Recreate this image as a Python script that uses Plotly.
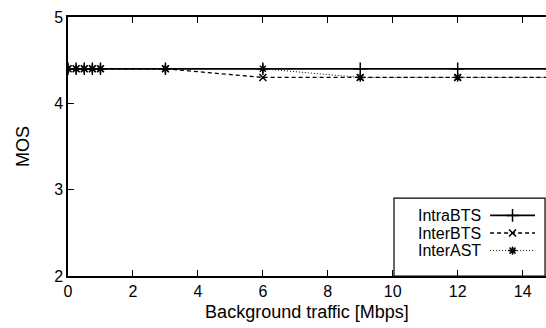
import plotly.graph_objects as go

# Data
x_vals = [0, 0.25, 0.5, 0.75, 1, 3, 6, 9, 12, 15]
intra_bts = [4.4, 4.4, 4.4, 4.4, 4.4, 4.4, 4.4, 4.4, 4.4, 4.4]
inter_bts = [4.4, 4.4, 4.4, 4.4, 4.4, 4.4, 4.3, 4.3, 4.3, 4.3]
inter_ast = [4.4, 4.4, 4.4, 4.4, 4.4, 4.4, 4.4, 4.3, 4.3, 4.3]
series_names = ["IntraBTS", "InterBTS", "InterAST"]
x_ticks = [0, 2, 4, 6, 8, 10, 12, 14]
y_ticks = [2, 3, 4, 5]

FONT = "Liberation Sans, Arial, Helvetica, sans-serif"
styles = [
    dict(dash="solid", width=1.8, symbol="cross-thin-open", msize=9),
    dict(dash="4px,3px", width=1.3, symbol="x-thin-open", msize=7),
    dict(dash="1px,2px", width=1.0, symbol="asterisk-open", msize=7),
]
series = [intra_bts, inter_bts, inter_ast]

fig = go.Figure()
for name, ys, st in zip(series_names, series, styles):
    fig.add_trace(go.Scatter(
        x=x_vals, y=ys, mode="lines+markers", name=name,
        line=dict(color="black", width=st["width"], dash=st["dash"]),
        marker=dict(symbol=st["symbol"], size=st["msize"],
                    line=dict(color="black", width=1.5), color="black"),
        showlegend=False, cliponaxis=True,
    ))

# manual gnuplot-style legend (text left, sample right)
leg_rows = [0.234, 0.166, 0.098]
for name, st, ry in zip(series_names, styles, leg_rows):
    fig.add_trace(go.Scatter(
        x=[0.883, 0.977], y=[ry, ry], mode="lines", xaxis="x2", yaxis="y2",
        line=dict(color="black", width=st["width"], dash=st["dash"]),
        showlegend=False, hoverinfo="skip",
    ))
    fig.add_trace(go.Scatter(
        x=[0.930], y=[ry], mode="markers", xaxis="x2", yaxis="y2",
        marker=dict(symbol=st["symbol"], size=st["msize"],
                    line=dict(color="black", width=1.5), color="black"),
        showlegend=False, hoverinfo="skip",
    ))
    fig.add_annotation(
        x=0.866, y=ry, xref="x2", yref="y2", text=name, showarrow=False,
        xanchor="right", yanchor="middle", borderpad=0,
        font=dict(family=FONT, size=16, color="black"),
    )

fig.add_shape(type="rect", xref="paper", yref="paper",
              x0=0.682, x1=0.998, y0=0.0, y1=0.301,
              line=dict(color="black", width=1.2), fillcolor="rgba(0,0,0,0)")

fig.update_layout(
    width=546, height=328,
    margin=dict(l=68, r=0, t=17, b=52),
    paper_bgcolor="white", plot_bgcolor="white",
    font=dict(family=FONT, size=16, color="black"),
    xaxis=dict(
        range=[0, 14.72], tickvals=x_ticks, ticks="inside", ticklen=6,
        tickwidth=1, tickcolor="black", showline=True, linecolor="black",
        linewidth=1.5, mirror="ticks", showgrid=False, zeroline=False,
        title=dict(text="Background traffic [Mbps]", font=dict(size=18), standoff=6),
        tickfont=dict(size=16),
    ),
    yaxis=dict(
        range=[2, 5], tickvals=y_ticks, ticks="inside", ticklen=6,
        tickwidth=1, tickcolor="black", showline=True, linecolor="black",
        linewidth=1.5, mirror=False, showgrid=False, zeroline=False,
        title=dict(text="MOS", font=dict(size=18), standoff=20),
        tickfont=dict(size=16),
    ),
    xaxis2=dict(range=[0, 1], overlaying="x", visible=False, anchor="y2"),
    yaxis2=dict(range=[0, 1], overlaying="y", visible=False, anchor="x2"),
)

fig.write_html("out.html")
